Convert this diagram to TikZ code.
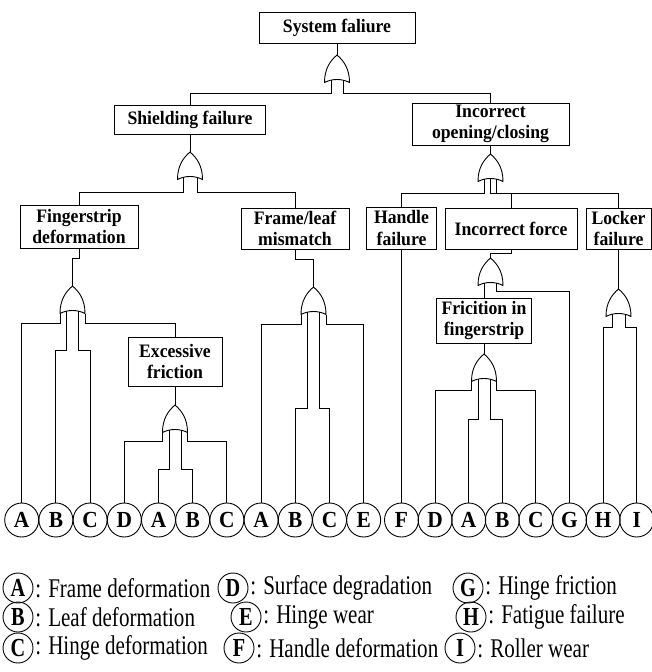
\documentclass[tikz,border=0pt]{standalone}
\usepackage{fontspec}
\setmainfont{Liberation Serif}[FakeStretch=0.93]
\newfontfamily\legfont{Liberation Serif}[FakeStretch=0.78]
\usetikzlibrary{calc}
\begin{document}
\begin{tikzpicture}[x=1pt,y=-1pt,
  line width=0.9pt,
  box/.style={draw, inner sep=0pt, align=center, font=\bfseries\fontsize{19}{21.5}\selectfont},
  ev/.style={draw, circle, inner sep=0pt, minimum size=34pt, font=\bfseries\fontsize{23}{24}\selectfont},
  lev/.style={draw, circle, inner sep=0pt, minimum size=30pt, font=\legfont\bfseries\fontsize{26}{26}\selectfont},
  ltx/.style={anchor=west, inner sep=1pt, xshift=0.5pt, font=\legfont\fontsize{27}{28}\selectfont},
  orgate/.pic={
    \coordinate (-a) at (0,0);
    \draw (0,0) .. controls (7,6) and (12.5,14) .. (12.5,27.5)
          .. controls (5,23.5) and (-5,23.5) .. (-12.5,27.5)
          .. controls (-12.5,14) and (-7,6) .. cycle;
  }]
\useasboundingbox (0,0) rectangle (652,672);

% event boxes
\node[box, minimum width=156pt, minimum height=31pt] (sys) at (337,27.5) {System faliure};
\node[box, minimum width=151pt, minimum height=29pt] (shield) at (190,119.5) {Shielding failure};
\node[box, minimum width=157pt, minimum height=42pt] (incoc) at (490.5,124) {Incorrect\\opening/closing};
\node[box, minimum width=118pt, minimum height=43pt] (finger) at (79,226.5) {Fingerstrip\\deformation};
\node[box, minimum width=108pt, minimum height=41pt] (frame) at (295,228.5) {Frame/leaf\\mismatch};
\node[box, minimum width=70pt, minimum height=42pt] (handle) at (401.5,228) {Handle\\failure};
\node[box, minimum width=132pt, minimum height=41pt] (force) at (511,228.5) {Incorrect force};
\node[box, minimum width=65pt, minimum height=41pt] (locker) at (618.5,228.5) {Locker\\failure};
\node[box, minimum width=94pt, minimum height=49pt] (excess) at (175,361.5) {Excessive\\friction};
\node[box, minimum width=95pt, minimum height=45pt] (fric) at (484,320.5) {Fricition in\\fingerstrip};

% basic events
\foreach \n/\t [count=\i from 0] in {A1/A,B1/B,C1/C,D1/D,A2/A,B2/B,C2/C,A3/A,B3/B,C3/C,E1/E}
  \node[ev] (\n) at ({21.7+34.2*\i},520) {\t};
\foreach \n/\t [count=\i from 0] in {F1/F,D2/D,A4/A,B4/B,C4/C,G1/G,H1/H,I1/I}
  \node[ev] (\n) at ({401.5+33.6*\i},520) {\t};

% OR gates
\pic (g0) at (337,55) {orgate};
\pic (g1) at (190,152) {orgate};
\pic (g2) at (490.5,154) {orgate};
\pic (g3) at (72.5,286) {orgate};
\pic (g4) at (175,405) {orgate};
\pic (g5) at (313.5,287) {orgate};
\pic (g6) at (490.5,258) {orgate};
\pic (g7) at (484,354) {orgate};
\pic (g8) at (618.5,289) {orgate};

% connectors
\draw (sys.south) -- (g0-a);
\draw (g0-a) ++(-6,25) -- ++(0,13) -| (shield.north);
\draw (g0-a) ++(6,25) -- ++(0,13) -| (incoc.north);

\draw (shield.south) -- (g1-a);
\draw (g1-a) ++(-7,25) -- ++(0,15) -| (finger.north);
\draw (g1-a) ++(7,25) -- ++(0,15) -| (frame.north);

\draw (incoc.south) -- (g2-a);
\draw (g2-a) ++(-6,25) -- ++(0,14) -| (handle.north);
\draw (g2-a) ++(0,24.5) -- ++(0,14.5) -| (force.north);
\draw (g2-a) ++(6,25) -- ++(0,14) -| (locker.north);

\draw (finger.south) -- ++(0,10) -| (g3-a);
\draw (g3-a) ++(-12.5,27.5) -- ++(0,9.5) -| (A1.north);
\draw (g3-a) ++(12.5,27.5) -- ++(0,9.5) -| (excess.north);
\draw (g3-a) ++(-6,25) -- ++(0,39) -| (B1.north);
\draw (g3-a) ++(6,25) -- ++(0,39) -| (C1.north);

\draw (excess.south) -- (g4-a);
\draw (g4-a) ++(-12.5,27.5) -- ++(0,8.5) -| (D1.north);
\draw (g4-a) ++(12.5,27.5) -- ++(0,8.5) -| (C2.north);
\draw (g4-a) ++(-6,25) -- ++(0,39) -| (A2.north);
\draw (g4-a) ++(6,25) -- ++(0,39) -| (B2.north);

\draw (frame.south) -- ++(0,10) -| (g5-a);
\draw (g5-a) ++(-12.5,27.5) -- ++(0,9.5) -| (A3.north);
\draw (g5-a) ++(12.5,27.5) -- ++(0,9.5) -| (E1.north);
\draw (g5-a) ++(-6,25) -- ++(0,96) -| (B3.north);
\draw (g5-a) ++(6,25) -- ++(0,96) -| (C3.north);

\draw (handle.south) -- (F1.north);

\draw (force.south) -- ++(0,4) -| (g6-a);
\draw (g6-a) ++(-6.5,25) -- (fric.north);
\draw (g6-a) ++(5.5,25) -- ++(0,8) -| (G1.north);

\draw (fric.south) -- (g7-a);
\draw (g7-a) ++(-12.5,27.5) -- ++(0,8.5) -| (D2.north);
\draw (g7-a) ++(12.5,27.5) -- ++(0,8.5) -| (C4.north);
\draw (g7-a) ++(-6,25) -- ++(0,40) -| (A4.north);
\draw (g7-a) ++(6,25) -- ++(0,40) -| (B4.north);

\draw (locker.south) -- (g8-a);
\draw (g8-a) ++(-6.5,25) -- ++(0,13) -| (H1.north);
\draw (g8-a) ++(6.5,25) -- ++(0,13) -| (I1.north);

% legend
\node[lev] (lA) at (18,588) {A};
\node[ltx] (tA) at (lA.east) {: Frame deformation};
\node[lev] (lB) at (18,617) {B};
\node[ltx] (tB) at (lB.east) {: Leaf deformation};
\node[lev] (lC) at (18,648) {C};
\node[ltx] (tC) at (lC.east) {: Hinge deformation};
\node[lev] (lD) at (233,588) {D};
\node[ltx] (tD) at (lD.east) {: Surface degradation};
\node[lev] (lE) at (246,617) {E};
\node[ltx] (tE) at (lE.east) {: Hinge wear};
\node[lev] (lF) at (239,648) {F};
\node[ltx] (tF) at (lF.east) {: Handle deformation};
\node[lev] (lG) at (468,588) {G};
\node[ltx] (tG) at (lG.east) {: Hinge friction};
\node[lev] (lH) at (471,617) {H};
\node[ltx] (tH) at (lH.east) {: Fatigue failure};
\node[lev] (lI) at (460,648) {I};
\node[ltx] (tI) at (lI.east) {: Roller wear};
\end{tikzpicture}
\end{document}
